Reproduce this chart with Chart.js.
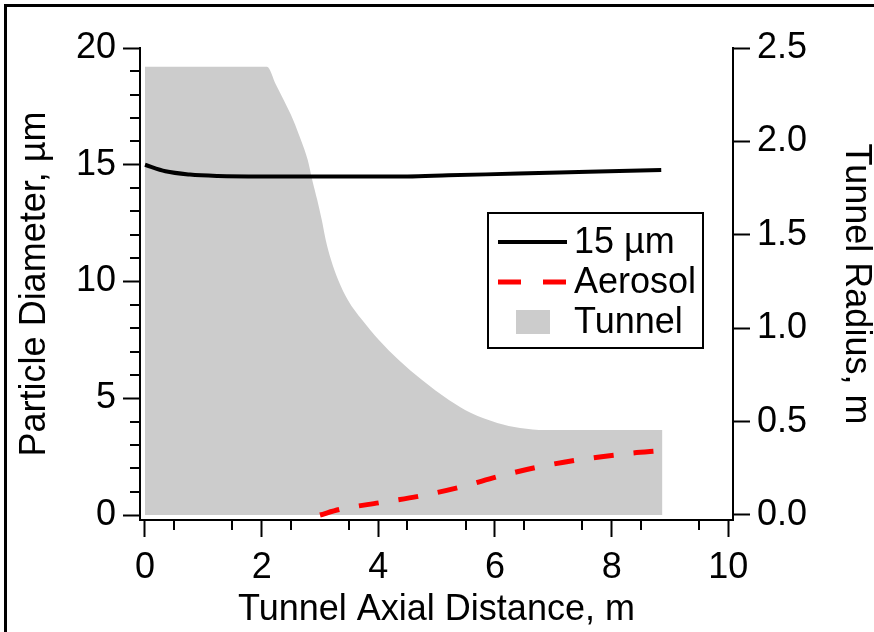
<!DOCTYPE html>
<html>
<head>
<meta charset="utf-8">
<script src="https://cdn.jsdelivr.net/npm/chart.js@4"></script>
<style>
  html, body { margin: 0; padding: 0; background: #fff; overflow: hidden; }
  #wrap { position: relative; width: 874px; height: 632px; }
  #frame { position: absolute; left: 4px; top: 4px; width: 900px; height: 700px; border: 3px solid #000; }
  canvas { position: absolute; left: 0; top: 0; }
</style>
</head>
<body>
<div id="wrap">
  <div id="frame"></div>
  <canvas id="tunnelChart" width="874" height="632"></canvas>
</div>
<script>
// particle trajectory, 15 µm
const particleX = [0, 0.35, 0.77, 1.25, 2, 3, 4.5, 5.2, 6.4, 7.6, 8.85];
const particleD = [15.0, 14.72, 14.58, 14.52, 14.5, 14.5, 14.5, 14.55, 14.62, 14.7, 14.78];

// aerosol
const aerosolX = [3.0, 3.34, 4.03, 4.71, 5.40, 6.09, 6.77, 7.51, 8.31, 8.83];
const aerosolD = [0.0, 0.24, 0.53, 0.81, 1.19, 1.67, 2.07, 2.39, 2.64, 2.75];

// tunnel radius profile (right axis)
const tunnelX = [0, 2.09, 2.25, 2.38, 2.54, 2.67, 2.79, 2.87, 2.95, 3.03, 3.10, 3.19, 3.31,
                 3.48, 3.72, 4.01, 4.35, 4.75, 5.21, 5.59, 6.04, 6.43, 6.86, 8.87];
const tunnelR = [2.40, 2.40, 2.30, 2.22, 2.115, 2.01, 1.90, 1.79, 1.69, 1.58, 1.47, 1.365, 1.26,
                 1.15, 1.045, 0.937, 0.83, 0.723, 0.616, 0.546, 0.493, 0.466, 0.455, 0.455];

const xTicks = [0, 2, 4, 6, 8, 10];
const yTicks = [0, 5, 10, 15, 20];
const y2Ticks = [0, 0.5, 1.0, 1.5, 2.0, 2.5];

const pts = (xs, ys) => xs.map((x, i) => ({ x: x, y: ys[i] }));
const FONT = { family: "'Liberation Sans', Arial, sans-serif", size: 36 };

const fixTicks = (vals) => (scale) => { scale.ticks = vals.map(v => ({ value: v })); };

// minor tick marks on bottom and left axes
const minorTicks = {
    id: "minorTicks",
    afterDraw(chart) {
        const { ctx, scales } = chart;
        ctx.save();
        ctx.strokeStyle = "#000";
        ctx.lineWidth = 2;
        ctx.beginPath();
        const yb = scales.x.top;
        for (let v = 0.5; v < 10; v += 1) {
            const px = Math.round(scales.x.getPixelForValue(v));
            ctx.moveTo(px, yb);
            ctx.lineTo(px, yb + 10);
        }
        const xl = scales.y.right;
        for (let v = 1; v < 20; v++) {
            if (v % 5 === 0) continue;
            const py = Math.round(scales.y.getPixelForValue(v));
            ctx.moveTo(xl, py);
            ctx.lineTo(xl - 10, py);
        }
        ctx.stroke();
        ctx.restore();
    }
};

// legend box inside the plot
const boxLegend = {
    id: "boxLegend",
    afterDraw(chart) {
        const { ctx } = chart;
        const left = 488, top = 213, right = 703, bottom = 348;
        ctx.save();
        ctx.fillStyle = "#fff";
        ctx.fillRect(left, top, right - left, bottom - top);
        ctx.strokeStyle = "#000";
        ctx.lineWidth = 2;
        ctx.strokeRect(left, top, right - left, bottom - top);
        ctx.font = FONT.size + "px " + FONT.family;
        ctx.textBaseline = "middle";
        chart.data.datasets.forEach((ds, i) => {
            const y = 242 + i * 40;
            if (ds.fill) {
                ctx.fillStyle = ds.backgroundColor;
                ctx.fillRect(516, y - 12, 34, 24);
            } else {
                ctx.strokeStyle = ds.borderColor;
                ctx.lineWidth = ds.borderWidth;
                ctx.setLineDash(ds.borderDash ? [23, 22] : []);
                ctx.beginPath();
                ctx.moveTo(498, y);
                ctx.lineTo(567, y);
                ctx.stroke();
                ctx.setLineDash([]);
            }
            ctx.fillStyle = "#000";
            ctx.fillText(ds.label, 574, y + 1);
        });
        ctx.restore();
    }
};

const data = {
    datasets: [
        {
            label: "15 µm",
            data: pts(particleX, particleD),
            borderColor: "#000000",
            borderWidth: 4,
            yAxisID: "y",
            fill: false,
        },
        {
            label: "Aerosol",
            data: pts(aerosolX, aerosolD),
            borderColor: "#ff0000",
            borderWidth: 5,
            borderDash: [20, 20],
            yAxisID: "y",
            fill: false,
        },
        {
            label: "Tunnel",
            data: pts(tunnelX, tunnelR),
            borderColor: "rgba(0,0,0,0)",
            borderWidth: 0,
            backgroundColor: "#cccccc",
            yAxisID: "y2",
            fill: "origin",
        },
    ],
};

const axisCommon = {
    border: { display: true, color: "#000", width: 2 },
    grid: { drawOnChartArea: false, drawTicks: true, tickLength: 17, tickColor: "#000", tickWidth: 2 },
};

const config = {
    type: "line",
    data: data,
    options: {
        responsive: false,
        animation: false,
        devicePixelRatio: 1,
        cubicInterpolationMode: "monotone",
        elements: { point: { radius: 0 } },
        layout: { padding: { top: 48, left: 0, right: 0, bottom: 0 } },
        plugins: {
            legend: { display: false },
            tooltip: { enabled: false },
        },
        scales: {
            x: {
                type: "linear",
                min: -0.0857,
                max: 10.08,
                ...axisCommon,
                afterBuildTicks: fixTicks(xTicks),
                afterFit: (s) => { s.height = 112; },
                ticks: { color: "#000", font: FONT, padding: 9, maxRotation: 0 },
                title: {
                    display: true,
                    text: "Tunnel Axial Distance, m",
                    color: "#000",
                    font: FONT,
                    padding: 0,
                },
            },
            y: {
                position: "left",
                min: -0.214,
                max: 20,
                ...axisCommon,
                afterBuildTicks: fixTicks(yTicks),
                afterFit: (s) => { s.width = 140; },
                ticks: { color: "#000", font: FONT, padding: 7 },
                title: {
                    display: true,
                    text: "Particle Diameter, µm",
                    color: "#000",
                    font: FONT,
                    padding: { top: 13, bottom: 0 },
                },
            },
            y2: {
                position: "right",
                min: -0.0268,
                max: 2.5,
                ...axisCommon,
                afterBuildTicks: fixTicks(y2Ticks),
                afterFit: (s) => { s.width = 141; },
                ticks: { color: "#000", font: FONT, padding: 7, callback: (v) => Number(v).toFixed(1) },
                title: {
                    display: true,
                    text: "Tunnel Radius, m",
                    color: "#000",
                    font: { ...FONT, lineHeight: 1.0 },
                    padding: 0,
                },
            },
        },
    },
    plugins: [minorTicks, boxLegend],
};

new Chart(document.getElementById("tunnelChart"), config);
</script>
</body>
</html>
